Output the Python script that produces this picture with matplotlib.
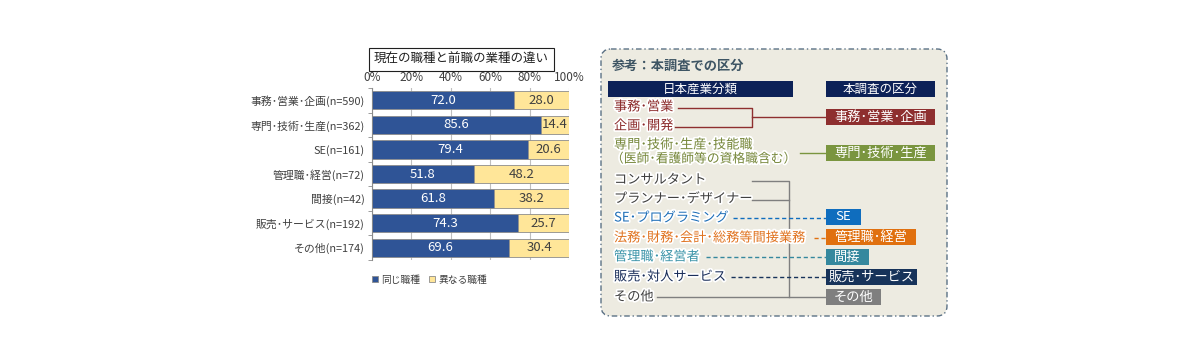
import numpy as np
import matplotlib.pyplot as plt
import matplotlib.patheffects as pe
from matplotlib.patches import FancyBboxPatch, Rectangle

plt.rcParams['font.family'] = ['Noto Sans CJK JP', 'DejaVu Sans']

categories = ["事務･営業･企画(n=590)", "専門･技術･生産(n=362)", "SE(n=161)",
              "管理職･経営(n=72)", "間接(n=42)", "販売･サービス(n=192)", "その他(n=174)"]
same = [72.0, 85.6, 79.4, 51.8, 61.8, 74.3, 69.6]
diff = [28.0, 14.4, 20.6, 48.2, 38.2, 25.7, 30.4]
series_names = ["同じ職種", "異なる職種"]
xtick_labels = ["0%", "20%", "40%", "60%", "80%", "100%"]

# right panel content
left_items = ["事務･営業", "企画･開発", "専門･技術･生産･技能職", "（医師･看護師等の資格職含む）",
              "コンサルタント", "プランナー･デザイナー", "SE･プログラミング",
              "法務･財務･会計･総務等間接業務", "管理職･経営者", "販売･対人サービス", "その他"]
left_colors = ["#8B2A2A", "#8B2A2A", "#76873A", "#76873A", "#404040", "#404040",
               "#1F6FB8", "#E07320", "#3A93A8", "#1A2E5A", "#404040"]
right_items = ["事務･営業･企画", "専門･技術･生産", "SE", "管理職･経営", "間接", "販売･サービス", "その他"]
right_colors = ["#8E2F2F", "#7A953F", "#0F6DBE", "#E0700F", "#35889E", "#17335A", "#7F7F7F"]

fig = plt.figure(figsize=(12, 3.6), dpi=100)
W, H = 1200, 360

# ---- bar chart
ax = fig.add_axes([372 / W, 1 - 260 / H, 197 / W, 172 / H])
y = np.arange(len(categories))
ax.barh(y, same, height=0.74, color="#2F5496", edgecolor="#8C8C8C", linewidth=0.6, zorder=3,
        label=series_names[0])
ax.barh(y, diff, left=same, height=0.74, color="#FFE699", edgecolor="#8C8C8C", linewidth=0.6,
        zorder=3, label=series_names[1])
for i in range(len(categories)):
    ax.text(same[i] / 2, y[i], f"{same[i]:.1f}", ha="center", va="center",
            color="white", fontsize=9.5, zorder=4)
    ax.text(same[i] + diff[i] / 2, y[i], f"{diff[i]:.1f}", ha="center", va="center",
            color="#404040", fontsize=9.5, zorder=4)
ax.set_xlim(0, 100)
ax.set_ylim(len(categories) - 0.5, -0.5)
ax.set_xticks(np.arange(0, 101, 20))
ax.set_xticklabels(xtick_labels, fontsize=8.5, color="#404040")
ax.xaxis.tick_top()
ax.tick_params(axis="x", length=0, pad=3)
ax.set_yticks(y)
ax.set_yticklabels(categories, fontsize=7.8, color="#404040")
ax.set_yticks(np.arange(-0.5, len(categories), 1), minor=True)
ax.tick_params(axis="y", which="major", length=0, pad=5)
ax.tick_params(axis="y", which="minor", length=3, color="#8C8C8C", direction="out")
ax.grid(axis="x", color="#BFBFBF", linewidth=0.8, zorder=0)
for s in ["top", "right", "bottom"]:
    ax.spines[s].set_visible(False)
ax.spines["left"].set_color("#8C8C8C")

fig.text(461 / W, 1 - 59 / H, "現在の職種と前職の業種の違い", ha="center", va="center",
         fontsize=9, color="#202020",
         bbox=dict(boxstyle="square,pad=0.4", fc="white", ec="#202020", lw=0.8))

ax.legend(loc="upper left", bbox_to_anchor=(-0.045, -0.035), ncol=2, frameon=False,
          fontsize=7, handlelength=0.6, handleheight=0.6, handletextpad=0.3,
          columnspacing=1.0, labelcolor="#404040")

# ---- right panel (pixel coordinates)
pa = fig.add_axes([0, 0, 1, 1])
pa.set_xlim(0, W)
pa.set_ylim(H, 0)
pa.axis("off")

box = FancyBboxPatch((601, 49), 346, 267, boxstyle="round,pad=0,rounding_size=10",
                     fc="#EDEBE1", ec="#5B7185", lw=1.0, ls=(0, (4, 2, 1, 2)))
pa.add_patch(box)
pa.text(612, 66, "参考：本調査での区分", fontsize=9.5, fontweight="bold", color="#3E5564",
        va="center")

pa.add_patch(Rectangle((608, 81), 185, 16, fc="#0C2157", ec="none"))
pa.text(700, 89, "日本産業分類", color="white", fontsize=9, ha="center", va="center")
pa.add_patch(Rectangle((826, 81), 109, 16, fc="#0C2157", ec="none"))
pa.text(880, 89, "本調査の区分", color="white", fontsize=9, ha="center", va="center")

left_y = [107, 126, 145, 159, 180, 199, 218, 238, 257, 277, 297]
glow = [pe.withStroke(linewidth=2.5, foreground="white")]
for t, c, yy in zip(left_items, left_colors, left_y):
    x0 = 611 if t.startswith("（") else 614
    fs = 9.2 if t.startswith("（") else 9.5
    pa.text(x0, yy, t, color=c, fontsize=fs, va="center", path_effects=glow)

right_y = [117, 153, 217, 237, 257, 277, 297]
right_w = [109, 109, 35, 90, 43, 91, 55]
for t, c, yy, w in zip(right_items, right_colors, right_y, right_w):
    pa.add_patch(Rectangle((826, yy - 8), w, 16, fc=c, ec="none"))
    pa.text(826 + w / 2, yy, t, color="white", fontsize=9.5, va="center", ha="center")

# connector lines
red, gray = right_colors[0], "#7F7F7F"
pa.plot([678, 752, 752, 675], [108, 108, 127, 127], color=red, lw=1)
pa.plot([752, 826], [117, 117], color=red, lw=1)
pa.plot([800, 826], [153, 153], color=right_colors[1], lw=1)
pa.plot([752, 789, 789], [181, 181, 297], color=gray, lw=1)
pa.plot([752, 789], [200, 200], color=gray, lw=1)
pa.plot([657, 826], [297, 297], color=gray, lw=1)
pa.plot([733, 826], [218, 218], color=right_colors[2], lw=1, ls=(0, (3, 2)))
pa.plot([814, 826], [238, 238], color=right_colors[3], lw=1, ls=(0, (3, 2)))
pa.plot([706, 826], [257, 257], color=right_colors[4], lw=1, ls=(0, (3, 2)))
pa.plot([731, 826], [277, 277], color=right_colors[5], lw=1, ls=(0, (3, 2)))

fig.savefig("out.png", dpi=100, facecolor="white")
